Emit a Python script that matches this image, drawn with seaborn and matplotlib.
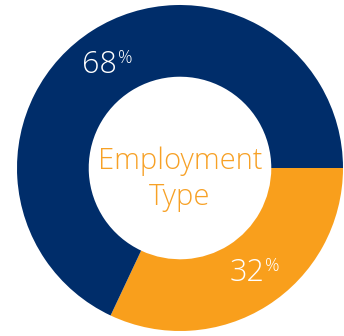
import matplotlib
matplotlib.use("Agg")
import matplotlib.pyplot as plt
import seaborn as sns

# Employment type split (percent)
categories = ["Part-time", "Full-time"]
shares = [32, 68]
colors = ["#F99F1C", "#002D6A"]
center_title = ["Employment", "Type"]

sns.set_theme(style="white")
plt.rcParams["font.family"] = ["Open Sans", "DejaVu Sans"]

W, H = 344, 336
fig = plt.figure(figsize=(W / 100, H / 100), dpi=100)
cx, cy, r = 180, 168, 163
ax = fig.add_axes([(cx - r) / W, (H - cy - r) / H, 2 * r / W, 2 * r / H])

wedges, _ = ax.pie(
    shares,
    colors=colors,
    startangle=0,
    counterclock=False,
    radius=1.0,
    wedgeprops=dict(width=0.44, linewidth=0),
)
ax.set_xlim(-1, 1)
ax.set_ylim(-1, 1)
ax.axis("off")


def px(x, y):
    return (x - cx) / r, (cy - y) / r


# percentage labels with small superscript percent sign
label_pos = {"Full-time": (117, 73), "Part-time": (264, 281)}
for cat, val in zip(categories, shares):
    x, y = label_pos[cat]
    ax.text(*px(x, y), f"{val}", color="white", fontsize=22, fontweight="light",
            ha="right", va="baseline")
    ax.text(*px(x + 1, y - 10), "%", color="white", fontsize=13, fontweight="light",
            ha="left", va="baseline")

# centre title, one line per row
for line, base in zip(center_title, (169, 205)):
    ax.text(*px(180, base), line, color="#F7A126", fontsize=21,
            fontweight="light", ha="center", va="baseline")

fig.savefig("out.png", dpi=100)
